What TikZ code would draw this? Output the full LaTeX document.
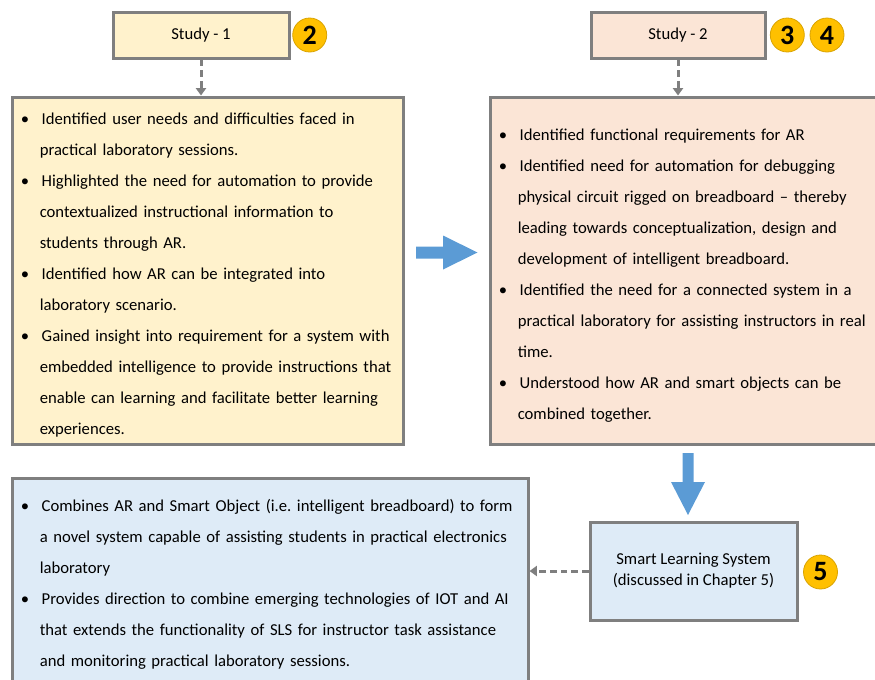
\documentclass[tikz,border=0pt]{standalone}
\usepackage{fontspec}
\setmainfont{Carlito}
\usepackage{enumitem}
\usetikzlibrary{arrows.meta,positioning}

\definecolor{boxgray}{HTML}{7F7F7F}
\definecolor{studyone}{HTML}{FFF2CC}
\definecolor{studytwo}{HTML}{FBE5D6}
\definecolor{slsblue}{HTML}{DEEBF7}
\definecolor{badgegold}{HTML}{FFC000}
\definecolor{badgeedge}{HTML}{D9A300}
\definecolor{arrowblue}{HTML}{5B9BD5}

\setlist[itemize]{label=\textbullet, leftmargin=14.25pt, labelsep=9.5pt, labelwidth=4.75pt, align=left,
  topsep=0pt, partopsep=0pt, itemsep=0pt, parsep=0pt}

\begin{document}
\begin{tikzpicture}[x=0.75pt, y=-0.75pt,
  box/.style={draw=boxgray, line width=2.25pt, align=center, font=\fontsize{12.5}{15.75}\selectfont},
  panel/.style={draw=boxgray, line width=2.25pt},
  bullets/.style={anchor=north west, inner sep=0pt, xshift=7.5pt, font=\fontsize{12.5}{23.25}\selectfont},
  badge/.style={circle, fill=badgegold, draw=badgeedge, line width=0.6pt, minimum size=25.5pt, inner sep=0pt, font=\fontsize{21}{21}\selectfont\bfseries},
  link/.style={-{Triangle[width=7.5pt,length=5.5pt]}, draw=boxgray, line width=2.25pt, dash pattern=on 5pt off 3pt},
  bigarrow/.style={fill=arrowblue}
]
\useasboundingbox (0,0) rectangle (875,679);

% Study headers
\node[box, fill=studyone, minimum width=132pt, minimum height=34.5pt] (study1) at (201,35) {Study - 1};
\node[box, fill=studytwo, minimum width=130.5pt, minimum height=34.5pt] (study2) at (678,35) {Study - 2};

\node[badge] (n2) at (309.7,35) {2};
\node[badge] (n3) at (787.3,35) {3};
\node[badge] (n4) at (827,35) {4};

% Findings of study 1
\node[panel, fill=studyone, minimum width=293.25pt, minimum height=260.25pt] (find1) at (207.5,270.5) {};
\node[bullets, text width=280pt, yshift=2pt] (find1list) at (find1.north west) {%
\begin{itemize}
\item Identified user needs and difficulties faced in\\ practical laboratory sessions.
\item Highlighted the need for automation to provide\\ contextualized instructional information to\\ students through AR.
\item Identified how AR can be integrated into\\ laboratory scenario.
\item Gained insight into requirement for a system with\\ embedded intelligence to provide instructions that\\ enable can learning and facilitate better learning\\ experiences.
\end{itemize}};

% Findings of study 2
\node[panel, fill=studytwo, minimum width=296.25pt, minimum height=260.25pt] (find2) at (687.5,270.5) {};
\node[bullets, text width=285pt, yshift=-10pt] (find2list) at (find2.north west) {%
\begin{itemize}
\item Identified functional requirements for AR
\item Identified need for automation for debugging\\ physical circuit rigged on breadboard -- thereby\\ leading towards conceptualization, design and\\ development of intelligent breadboard.
\item Identified the need for a connected system in a\\ practical laboratory for assisting instructors in real\\ time.
\item Understood how AR and smart objects can be\\ combined together.
\end{itemize}};

% Smart Learning System and its outcome
\node[box, fill=slsblue, minimum width=155.25pt, minimum height=73.5pt] (sls) at (693.5,571) {Smart Learning System\\(discussed in Chapter 5)};
\node[badge] (n5) at (820.5,572) {5};

\node[panel, fill=slsblue, minimum width=387pt, minimum height=157.5pt] (outcome) at (270,583) {};
\node[bullets, text width=375pt, yshift=-2.6pt] (outcomelist) at (outcome.north west) {%
\begin{itemize}
\item Combines AR and Smart Object (i.e.\ intelligent breadboard) to form\\ a novel system capable of assisting students in practical electronics\\ laboratory
\item Provides direction to combine emerging technologies of IOT and AI\\ that extends the functionality of SLS for instructor task assistance\\ and monitoring practical laboratory sessions.
\end{itemize}};

% Dashed links
\draw[link] (study1.south) -- (study1.south |- find1.north);
\draw[link] (study2.south) -- (study2.south |- find2.north);
\draw[link] (sls.west) -- (sls.west -| outcome.east);

% Block arrows
\coordinate (r0) at (416,252.5);
\fill[bigarrow] (r0) ++(0,-6) -- ++(27,0) -- ++(0,-11) -- ++(34.5,17) -- ++(-34.5,17) -- ++(0,-11) -- ++(-27,0) -- cycle;
\coordinate (d0) at (688,453);
\fill[bigarrow] (d0) ++(-5.5,0) -- ++(11,0) -- ++(0,29) -- ++(11.5,0) -- ++(-17,33) -- ++(-17,-33) -- ++(11.5,0) -- cycle;

\end{tikzpicture}
\end{document}
